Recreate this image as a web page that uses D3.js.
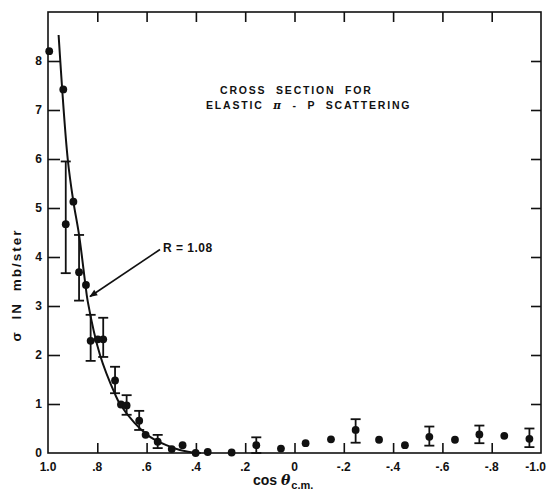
<!DOCTYPE html>
<html>
<head>
<meta charset="utf-8">
<script src="https://cdn.jsdelivr.net/npm/d3@7"></script>
<style>
  body { margin: 0; background: #fff; }
  text { font-family: "Liberation Sans", Arial, sans-serif; font-weight: bold; fill: #111; }
</style>
</head>
<body>
<svg width="547" height="493"></svg>
<script>
// measured points: cos theta (c.m.), sigma in mb/ster, error bar low / high (null = no bar)
const cosTheta = [0.995, 0.938, 0.897, 0.928, 0.874, 0.846, 0.827, 0.798, 0.776, 0.728, 0.704, 0.681,
                  0.630, 0.604, 0.555, 0.498, 0.454, 0.401, 0.352, 0.255, 0.155, 0.055, -0.045, -0.148,
                  -0.248, -0.343, -0.448, -0.547, -0.651, -0.750, -0.851, -0.953];
const sigma    = [8.2, 7.42, 5.13, 4.67, 3.69, 3.43, 2.29, 2.32, 2.32, 1.48, 0.99, 0.97,
                  0.66, 0.37, 0.23, 0.08, 0.16, 0.0, 0.02, 0.01, 0.16, 0.09, 0.20, 0.28,
                  0.47, 0.27, 0.16, 0.33, 0.27, 0.38, 0.35, 0.29];
const errLow   = [null, null, null, 3.67, 3.11, null, 1.88, null, 1.96, 1.22, null, 0.78,
                  0.47, null, 0.10, null, null, null, null, null, 0.0, null, null, null,
                  0.21, null, null, 0.15, null, 0.20, null, 0.12];
const errHigh  = [null, null, null, 5.95, 4.45, null, 2.82, null, 2.76, 1.76, null, 1.18,
                  0.86, null, 0.37, null, null, null, null, null, 0.32, null, null, null,
                  0.69, null, null, 0.54, null, 0.56, null, 0.50];

// fitted curve, R = 1.08
const fitCos   = [0.957, 0.92, 0.897, 0.874, 0.848, 0.839, 0.789, 0.728, 0.708, 0.65, 0.586, 0.52, 0.465, 0.40, 0.38];
const fitSigma = [8.53, 6.0, 5.13, 4.45, 3.43, 3.1, 2.0, 1.2, 1.0, 0.62, 0.33, 0.16, 0.06, 0.0, 0.0];

const xTicks = [1.0, 0.8, 0.6, 0.4, 0.2, 0, -0.2, -0.4, -0.6, -0.8, -1.0];
const xTickLabels = ["1.0", ".8", ".6", ".4", ".2", "0", "-.2", "-.4", "-.6", "-.8", "-1.0"];
const yTicks = [0, 1, 2, 3, 4, 5, 6, 7, 8];

const svg = d3.select("svg");
const m = { left: 48, right: 541, top: 12, bottom: 453 };

const x = d3.scaleLinear().domain([1, -1]).range([m.left, m.right]);
const y = d3.scaleLinear().domain([0, 9]).range([m.bottom, m.top]);

// frame
svg.append("rect")
    .attr("x", m.left).attr("y", m.top)
    .attr("width", m.right - m.left).attr("height", m.bottom - m.top)
    .attr("fill", "none").attr("stroke", "#111").attr("stroke-width", 1.6);

// ticks point inward on all four sides
const xIn = xTicks.slice(1, -1);
const bottomAxis = svg.append("g").attr("transform", `translate(0,${m.bottom})`)
    .call(d3.axisTop(x).tickValues(xIn).tickSize(10).tickFormat(""));
const topAxis = svg.append("g").attr("transform", `translate(0,${m.top})`)
    .call(d3.axisBottom(x).tickValues(xIn).tickSize(10).tickFormat(""));
const leftAxis = svg.append("g").attr("transform", `translate(${m.left},0)`)
    .call(d3.axisRight(y).tickValues(yTicks.slice(1)).tickSize(12).tickFormat(""));
const rightAxis = svg.append("g").attr("transform", `translate(${m.right},0)`)
    .call(d3.axisLeft(y).tickValues(yTicks.slice(1)).tickSize(10).tickFormat(""));
[bottomAxis, topAxis, leftAxis, rightAxis].forEach(a => {
    a.select(".domain").remove();
    a.selectAll("line").attr("stroke", "#111").attr("stroke-width", 1.6);
});

// tick labels (last one kept inside the page edge)
svg.append("g").selectAll("text").data(xTicks).join("text")
    .attr("x", (d, i) => i === xTicks.length - 1 ? 546 : x(d)).attr("y", 471)
    .attr("text-anchor", (d, i) => i === xTicks.length - 1 ? "end" : "middle")
    .attr("font-size", 12)
    .text((d, i) => xTickLabels[i]);
svg.append("g").selectAll("text").data(yTicks).join("text")
    .attr("x", 42).attr("y", d => y(d) + 4)
    .attr("text-anchor", "end").attr("font-size", 12)
    .text(d => d);

// fitted curve
const fit = fitCos.map((c, i) => [c, fitSigma[i]]);
svg.append("path")
    .datum(fit)
    .attr("d", d3.line().x(d => x(d[0])).y(d => y(d[1])).curve(d3.curveCatmullRom))
    .attr("fill", "none").attr("stroke", "#111").attr("stroke-width", 2);

// error bars
const pts = cosTheta.map((c, i) => ({ c, s: sigma[i], lo: errLow[i], hi: errHigh[i] }));
const bars = svg.append("g").selectAll("g").data(pts.filter(d => d.lo !== null)).join("g")
    .attr("stroke", "#111").attr("stroke-width", 1.8);
bars.append("line")
    .attr("x1", d => x(d.c)).attr("x2", d => x(d.c))
    .attr("y1", d => y(d.lo)).attr("y2", d => y(d.hi));
bars.append("line")
    .attr("x1", d => x(d.c) - 5).attr("x2", d => x(d.c) + 5)
    .attr("y1", d => y(d.lo)).attr("y2", d => y(d.lo));
bars.append("line")
    .attr("x1", d => x(d.c) - 5).attr("x2", d => x(d.c) + 5)
    .attr("y1", d => y(d.hi)).attr("y2", d => y(d.hi));

// points
svg.append("g").selectAll("circle").data(pts).join("circle")
    .attr("cx", d => x(d.c)).attr("cy", d => y(d.s))
    .attr("r", 3.9).attr("fill", "#111");

// R label with arrow to the curve
svg.append("defs").append("marker")
    .attr("id", "arr").attr("viewBox", "0 0 10 10")
    .attr("refX", 9).attr("refY", 5)
    .attr("markerWidth", 7).attr("markerHeight", 5)
    .attr("orient", "auto")
    .append("path").attr("d", "M0,1 L10,5 L0,9 Z").attr("fill", "#111");
svg.append("line")
    .attr("x1", 160).attr("y1", 249.5).attr("x2", 90).attr("y2", 296.5)
    .attr("stroke", "#111").attr("stroke-width", 1.6)
    .attr("marker-end", "url(#arr)");
svg.append("text")
    .attr("x", 163).attr("y", 252).attr("font-size", 12)
    .attr("letter-spacing", 0.5)
    .text("R = 1.08");

// title
const title = svg.append("g").attr("font-size", 10.5).attr("letter-spacing", 1.8);
title.append("text").attr("x", 220).attr("y", 94).attr("word-spacing", 5).text("CROSS SECTION FOR");
title.append("text").attr("x", 206).attr("y", 109).attr("word-spacing", 5)
    .html('ELASTIC <tspan font-family="DejaVu Serif" font-style="italic">π</tspan> - P  SCATTERING');

// axis labels
svg.append("text")
    .attr("transform", "translate(21,285) rotate(-90)")
    .attr("text-anchor", "middle").attr("font-size", 13.5).attr("letter-spacing", 2)
    .attr("word-spacing", 5)
    .text("σ IN mb/ster");
const xl = svg.append("text").attr("x", 253).attr("y", 485).attr("font-size", 14);
xl.append("tspan").text("cos ");
xl.append("tspan").attr("font-family", "DejaVu Serif").attr("font-style", "italic").text("θ");
xl.append("tspan").attr("dy", 4).attr("font-size", 11).attr("dx", 1).text("c.m.");
</script>
</body>
</html>
